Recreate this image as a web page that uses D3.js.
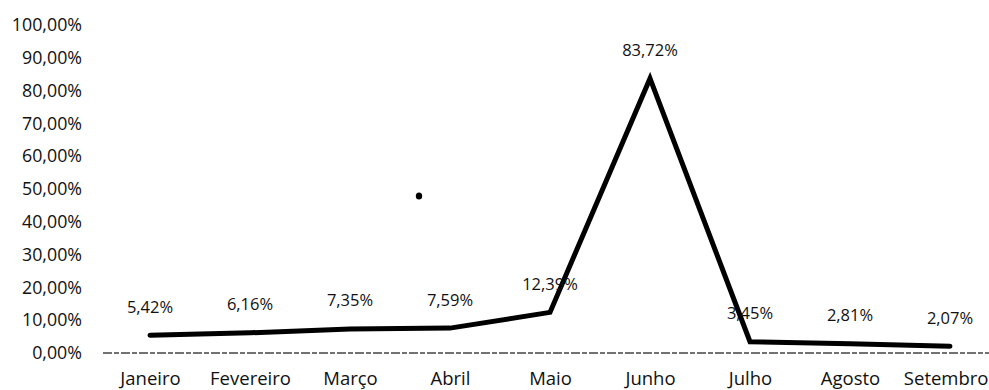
<!DOCTYPE html>
<html>
<head>
<meta charset="utf-8">
<script src="https://cdn.jsdelivr.net/npm/d3@7"></script>
<style>
  html, body { margin: 0; padding: 0; background: #fff; }
  svg { display: block; }
  text { font-family: "Open Sans", Lato, sans-serif; fill: #111; }
</style>
</head>
<body>
<svg id="chart" width="989" height="390"></svg>
<script>
const months = ["Janeiro", "Fevereiro", "Março", "Abril", "Maio", "Junho", "Julho", "Agosto", "Setembro"];
const values = [5.42, 6.16, 7.35, 7.59, 12.39, 83.72, 3.45, 2.81, 2.07];
const yTicks = [0, 10, 20, 30, 40, 50, 60, 70, 80, 90, 100];

const fmt = v => d3.format(".2f")(v).replace(".", ",") + "%";

const svg = d3.select("#chart");

const x = d3.scalePoint().domain(months).range([150, 950]);
const y = d3.scaleLinear().domain([0, 100]).range([353, 25]);

// Y axis labels
const yAxis = d3.axisLeft(y).tickValues(yTicks).tickFormat(fmt).tickSize(0).tickPadding(0);
const yg = svg.append("g").attr("transform", "translate(82,0)").call(yAxis);
yg.select(".domain").remove();
yg.selectAll("text").style("font-size", "17.8px").attr("fill", "#111")
  .attr("font-family", "'Open Sans', Lato, sans-serif");

// X axis labels
const xAxis = d3.axisBottom(x).tickSize(0).tickPadding(19);
const xg = svg.append("g").attr("transform", `translate(0,${y(0)})`).call(xAxis);
xg.select(".domain").remove();
xg.selectAll("text").style("font-size", "18.5px").attr("fill", "#111")
  .attr("font-family", "'Open Sans', Lato, sans-serif");
// last label sits against the right edge, as in the reference
xg.selectAll(".tick").filter(d => d === months[months.length - 1]).select("text")
  .attr("text-anchor", "end").attr("x", 988 - x(months[months.length - 1]));

// X axis line
svg.append("line")
  .attr("x1", 103).attr("x2", 989)
  .attr("y1", y(0)).attr("y2", y(0))
  .attr("stroke", "#444").attr("stroke-width", 1.4)
  .attr("stroke-dasharray", "9,2,5,2");

// Line
const line = d3.line().x((d, i) => x(months[i])).y(d => y(d));
svg.append("path")
  .datum(values)
  .attr("d", line)
  .attr("fill", "none")
  .attr("stroke", "#000")
  .attr("stroke-width", 5)
  .attr("stroke-linejoin", "miter")
  .attr("stroke-linecap", "round");

// Data labels
svg.append("g").selectAll("text")
  .data(values)
  .join("text")
  .attr("x", (d, i) => x(months[i]))
  .attr("y", d => y(d) - 29)
  .attr("text-anchor", "middle")
  .attr("dominant-baseline", "central")
  .style("font-size", "16.5px")
  .text(d => fmt(d));

// small scan speck
svg.append("ellipse").attr("cx", 419).attr("cy", 196).attr("rx", 3.2).attr("ry", 3.6).attr("fill", "#000");
</script>
</body>
</html>
